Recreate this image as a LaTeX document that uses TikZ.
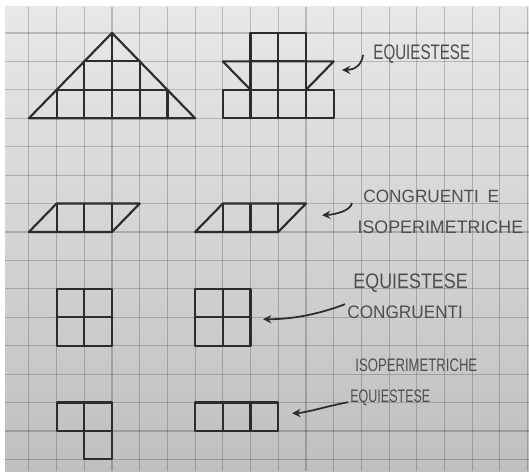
\documentclass[tikz,border=0pt]{standalone}
\usepackage{fontspec}
\usepackage{graphicx}
\usepackage{tikz}
\usetikzlibrary{calc,arrows,positioning}
\newfontfamily\handfont{Liberation Sans}
\definecolor{pen}{HTML}{2C2C2C}
\definecolor{pencil}{HTML}{4E4E4E}
\definecolor{papertop}{HTML}{E8E8E8}
\definecolor{paperbottom}{HTML}{BFBFBF}

\begin{document}
\begin{tikzpicture}[x=0.5cm,y=-0.513cm]

	\tikzstyle{cell} = [draw=pen, line width=1.1pt, line join=round, line cap=round]
	\tikzstyle{note} = [text=pencil, anchor=west, inner sep=0pt]
	\tikzstyle{line} = [draw=pen, ->, >=stealth, line width=0.9pt]
	\tikzstyle{gridline} = [draw=black, opacity=0.2, line width=0.6pt]

    % Paper and squares
    \useasboundingbox (-0.043,-0.16) rectangle (19.05,16.42);
    \fill[white] (-0.043,-0.16) rectangle (19.05,16.42);
    \shade[top color=papertop, bottom color=paperbottom] (0.14,0.085) rectangle (19.05,16.42);
    \foreach \x in {1,...,19} \draw[gridline] (\x,0.085) -- (\x,16.42);
    \foreach \y in {1,...,16} \draw[gridline] (0.14,\y) -- (19.05,\y);

    % Triangle
    \draw[cell] (1,4) -- (4,1) -- (7,4) -- cycle;
    \draw[cell] (3,2) -- (5,2) (2,3) -- (6,3);
    \draw[cell] (4,1) -- (4,4) (3,2) -- (3,4) (5,2) -- (5,4) (2,3) -- (2,4) (6,3) -- (6,4);

    % Cross
    \draw[cell] (9,1) rectangle (11,2);
    \draw[cell] (8,2) -- (12,2) -- (11,3) (8,2) -- (9,3);
    \draw[cell] (8,3) rectangle (12,4);
    \draw[cell] (10,1) -- (10,4);
    \foreach \x in {9,11} \draw[cell] (\x,2) -- (\x,4);

    % Parallelograms
    \foreach \s in {0,6} {
      \draw[cell] (1+\s,8) -- (2+\s,7) -- (5+\s,7) -- (4+\s,8) -- cycle;
      \foreach \x in {2,3,4} \draw[cell] (\x+\s,7) -- (\x+\s,8);
    }

    % Squares
    \foreach \s in {0,5} {
      \draw[cell] (2+\s,10) rectangle (4+\s,12);
      \draw[cell] (3+\s,10) -- (3+\s,12) (2+\s,11) -- (4+\s,11);
    }

    % L shape and bar
    \draw[cell] (2,14) rectangle (4,15) (3,14) -- (3,15) (3,15) rectangle (4,16);
    \draw[cell] (7,14) rectangle (10,15) (8,14) -- (8,15) (9,14) -- (9,15);

    % Place nodes
    \node [note, font=\handfont\fontsize{10.8}{13}\selectfont] at (13.42,1.75) (equi1) {\scalebox{0.72}[1]{EQUIESTESE}};
    \node [note, font=\handfont\fontsize{9.1}{11}\selectfont] at (13.06,6.74) (cong1) {\scalebox{0.97}[1]{CONGRUENTI\enspace E}};
    \node [note, font=\handfont\fontsize{9.3}{11}\selectfont] at (12.85,7.83) (iso1) {\scalebox{0.985}[1]{ISOPERIMETRICHE}};
    \node [note, font=\handfont\fontsize{10.8}{13}\selectfont] at (12.70,9.79) (equi2) {\scalebox{0.85}[1]{EQUIESTESE}};
    \node [note, font=\handfont\fontsize{9.3}{11}\selectfont] at (12.48,10.81) (cong2) {\scalebox{0.95}[1]{CONGRUENTI}};
    \node [note, font=\handfont\fontsize{9.3}{11}\selectfont] at (12.77,12.69) (iso2) {\scalebox{0.725}[1]{ISOPERIMETRICHE}};
    \node [note, font=\handfont\fontsize{9.3}{11}\selectfont] at (12.59,13.85) (equi3) {\scalebox{0.69}[1]{EQUIESTESE}};

    \coordinate (tip_cross) at (12.3,2.3);
    \coordinate (tip_para) at (11.58,7.41);
    \coordinate (tip_square) at (9.45,11.07);
    \coordinate (tip_bar) at (10.5,14.38);

    % Draw edges
    \path [line] ([shift={(-0.36,0.02)}]equi1.west) .. controls +(-0.05,0.4) and +(0.4,0) .. (tip_cross);
    \path [line] ([shift={(-0.4,0.24)}]cong1.west) .. controls +(-0.05,0.3) and +(0.4,-0.02) .. (tip_para);
    \path [line] ([shift={(-0.07,-0.27)}]cong2.west) .. controls +(-0.8,0.3) and +(1.2,0) .. (tip_square);
    \path [line] ([shift={(-0.07,0.14)}]equi3.west) .. controls +(-0.6,0.1) and +(0.5,-0.02) .. (tip_bar);
\end{tikzpicture}
\end{document}
